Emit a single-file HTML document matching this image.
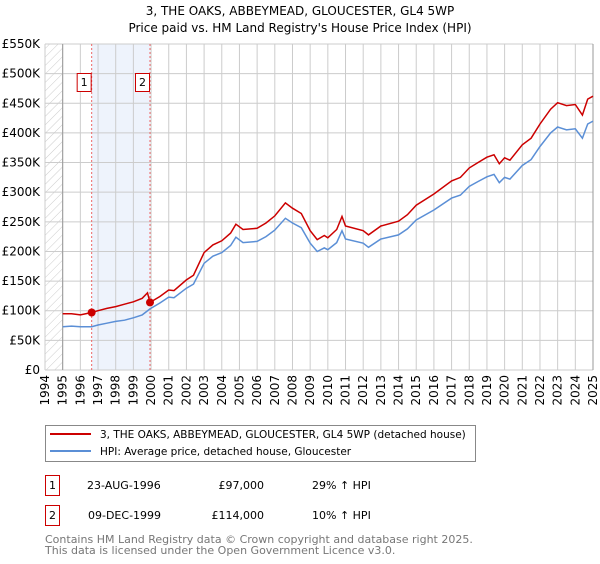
<!DOCTYPE html>
<html><head><meta charset="utf-8"><style>
body{margin:0;background:#fff;font-family:"DejaVu Sans","Liberation Sans",sans-serif;}
svg text{font-family:"DejaVu Sans","Liberation Sans",sans-serif;}
</style></head><body>
<svg id="chart" width="600" height="560" xmlns="http://www.w3.org/2000/svg">
<defs><pattern id="hatch" width="6" height="6" patternUnits="userSpaceOnUse" patternTransform="rotate(45)"><line x1="0" y1="0" x2="0" y2="6" stroke="#ccc" stroke-width="1"/></pattern></defs>
<text x="300" y="15" text-anchor="middle" font-size="12">3, THE OAKS, ABBEYMEAD, GLOUCESTER, GL4 5WP</text>
<text x="300" y="32" text-anchor="middle" font-size="12">Price paid vs. HM Land Registry's House Price Index (HPI)</text>
<g id="plot"></g>
<g>
<rect x="45.5" y="425.5" width="430" height="36" fill="#fff" stroke="#888"/>
<line x1="50" y1="434" x2="91" y2="434" stroke="#cc0000" stroke-width="2"/>
<text x="100" y="438" font-size="10.5">3, THE OAKS, ABBEYMEAD, GLOUCESTER, GL4 5WP (detached house)</text>
<line x1="50" y1="451" x2="91" y2="451" stroke="#5b8fd6" stroke-width="2"/>
<text x="100" y="455" font-size="10.5">HPI: Average price, detached house, Gloucester</text>
</g>
<g font-size="11">
<rect x="45.5" y="475.5" width="14" height="20" fill="#fff" stroke="#cc0000"/>
<text x="52.5" y="489" text-anchor="middle">1</text>
<text x="87" y="489">23-AUG-1996</text>
<text x="264" y="489" text-anchor="end">£97,000</text>
<text x="312" y="489">29% ↑ HPI</text>
<rect x="45.5" y="505.5" width="14" height="20" fill="#fff" stroke="#cc0000"/>
<text x="52.5" y="519" text-anchor="middle">2</text>
<text x="88" y="519">09-DEC-1999</text>
<text x="264" y="519" text-anchor="end">£114,000</text>
<text x="312" y="519">10% ↑ HPI</text>
</g>
<text x="45" y="543" font-size="11" fill="#777">Contains HM Land Registry data © Crown copyright and database right 2025.</text>
<text x="45" y="554" font-size="11" fill="#777">This data is licensed under the Open Government Licence v3.0.</text>
</svg>
<script>
const yTicks=[0,50,100,150,200,250,300,350,400,450,500,550];
const yTickLabels=["£0","£50K","£100K","£150K","£200K","£250K","£300K","£350K","£400K","£450K","£500K","£550K"];
const xYears=[1994,1995,1996,1997,1998,1999,2000,2001,2002,2003,2004,2005,2006,2007,2008,2009,2010,2011,2012,2013,2014,2015,2016,2017,2018,2019,2020,2021,2022,2023,2024,2025];
const hpiDates=[1995,1995.5,1996,1996.64,1997,1997.5,1998,1998.5,1999,1999.5,1999.94,2000.5,2001,2001.3,2002,2002.4,2003,2003.5,2004,2004.5,2004.8,2005.2,2006,2006.5,2007,2007.6,2008,2008.5,2009,2009.4,2009.8,2010,2010.5,2010.8,2011,2012,2012.3,2013,2014,2014.5,2015,2016,2017,2017.5,2018,2018.5,2019,2019.4,2019.7,2020,2020.3,2021,2021.5,2022,2022.6,2023,2023.5,2024,2024.4,2024.7,2025];
const hpiValues=[73,74,73,73,76,79,82,84,88,93,103,113,123,122,138,145,180,192,198,210,224,215,217,225,236,256,248,240,214,200,206,203,215,235,221,214,207,221,228,238,253,270,290,295,310,318,326,330,316,325,322,345,355,377,400,410,405,407,391,415,420];
const priceDates=[1995,1995.5,1996,1996.64,1997,1997.5,1998,1998.5,1999,1999.5,1999.8,1999.94,2000.5,2001,2001.3,2002,2002.4,2003,2003.5,2004,2004.5,2004.8,2005.2,2006,2006.5,2007,2007.6,2008,2008.5,2009,2009.4,2009.8,2010,2010.5,2010.8,2011,2012,2012.3,2013,2014,2014.5,2015,2016,2017,2017.5,2018,2018.5,2019,2019.4,2019.7,2020,2020.3,2021,2021.5,2022,2022.6,2023,2023.5,2024,2024.4,2024.7,2025];
const priceValues=[95,95,93,97,100,104,107,111,115,121,130,114,124,135,134,152,160,198,211,218,231,246,237,239,248,260,282,273,264,235,220,227,223,237,259,243,235,228,243,251,262,278,297,319,325,341,350,359,363,348,358,354,380,391,415,440,451,446,448,430,457,462];
const saleDates=[1996.64,1999.94];
const saleValues=[97,114];
const saleLabels=["1","2"];

const L=45,R=593,T=44,B=370;
const X=y=>L+(y-1994)/(2025-1994)*(R-L);
const Y=v=>B-v/550*(B-T);
const NS="http://www.w3.org/2000/svg";
const g=document.getElementById('plot');
function mk(tag,attrs){const e=document.createElementNS(NS,tag);for(const k in attrs)e.setAttribute(k,attrs[k]);g.appendChild(e);return e;}
let h=mk('rect',{x:L,y:T,width:X(1995)-L,height:B-T,fill:'url(#hatch)'});


let sh=mk('rect',{x:X(saleDates[0]),y:T,width:X(saleDates[1])-X(saleDates[0]),height:B-T,fill:'#eef3fc'});


yTicks.forEach((t,i)=>{
  let l=mk('line',{x1:L,x2:R,y1:Y(t),y2:Y(t),stroke:'#ccc','stroke-width':1});
  
  
  let tx=mk('text',{x:L-5,y:Y(t)+4,'text-anchor':'end','font-size':12});
  
  
  tx.textContent=yTickLabels[i];
});
xYears.forEach(yr=>{
  let l=mk('line',{x1:X(yr),x2:X(yr),y1:T,y2:B,stroke:'#ccc','stroke-width':1});
  
  
  let tx=mk('text',{x:0,y:0,'text-anchor':'end','font-size':12,transform:`translate(${X(yr)+4},${B+5}) rotate(-90)`});
  
  
  tx.textContent=yr;
});
let ax=mk('line',{x1:X(1995),x2:X(1995),y1:T,y2:B,stroke:'#999'});


let ax2=mk('line',{x1:R,x2:R,y1:T,y2:B,stroke:'#999'});


saleDates.forEach((d,i)=>{
  let l=mk('line',{x1:X(d),x2:X(d),y1:T,y2:B,stroke:'#e66','stroke-width':1,'stroke-dasharray':'2,2'});
  
  
  let bx=mk('rect',{x:X(d)-14.5,y:73.5,width:14,height:18,fill:'#fff',stroke:'#cc0000'});
  
  
  let t=mk('text',{x:X(d)-7.5,y:86,'text-anchor':'middle','font-size':11});
  
  
  t.textContent=saleLabels[i];
});
const path=(ds,vs)=>ds.map((d,i)=>(i?'L':'M')+X(d).toFixed(1)+','+Y(vs[i]).toFixed(1)).join('');
let hp=mk('path',{d:path(hpiDates,hpiValues),fill:'none',stroke:'#5b8fd6','stroke-width':1.5});


let pp=mk('path',{d:path(priceDates,priceValues),fill:'none',stroke:'#cc0000','stroke-width':1.5});


saleDates.forEach((d,i)=>{
  let c=mk('circle',{cx:X(d),cy:Y(saleValues[i]),r:4,fill:'#cc0000'});
  
  
});
</script>
</body></html>
